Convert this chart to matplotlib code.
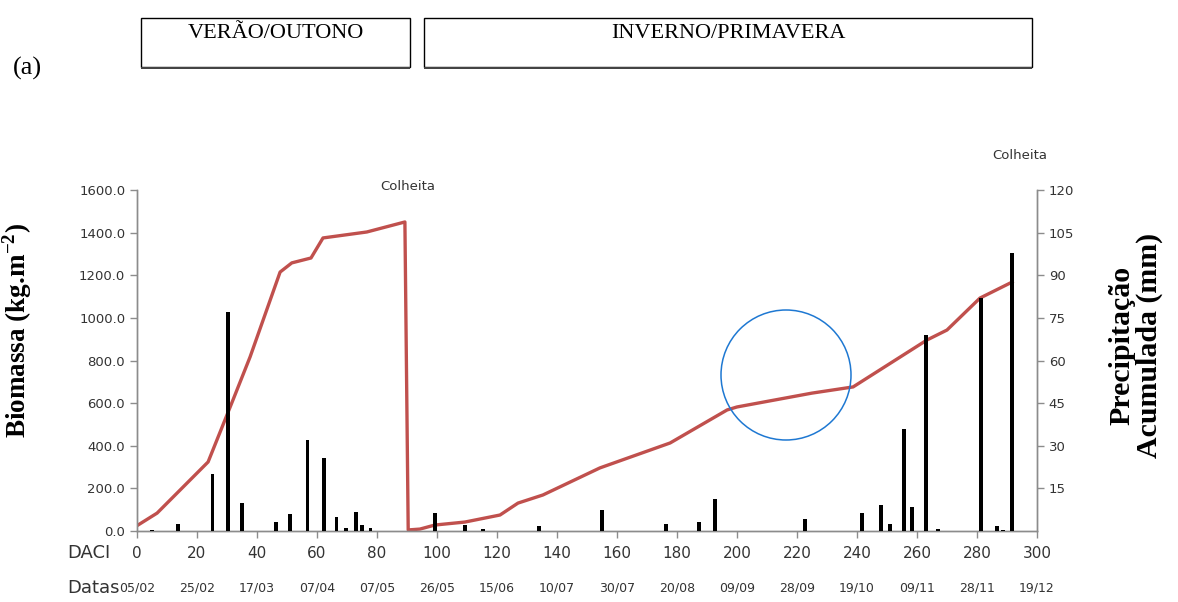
import matplotlib
matplotlib.use("Agg")
import matplotlib.pyplot as plt
from matplotlib.patches import Rectangle, Ellipse
from matplotlib.transforms import blended_transform_factory

plt.rcParams["mathtext.fontset"] = "custom"
plt.rcParams["mathtext.rm"] = "Liberation Serif:bold"
plt.rcParams["mathtext.bf"] = "Liberation Serif:bold"

# Biomass curve (DACI, kg.m-2)
bio_daci = [0, 6.7, 23.7, 32, 37.7, 47.7, 51.6, 58, 62, 76.6, 89.3, 90.4,
            94.3, 99.3, 109.3, 121, 127, 135.3, 154.3, 177.7, 196.7, 200,
            225, 238.7, 263.3, 270, 281, 291.7]
bio_vals = [25, 84, 324, 615, 817, 1215, 1258, 1281, 1375, 1403, 1450, 5,
            9, 28, 42, 75, 131, 169, 296, 413, 568, 582,
            647, 676, 896, 943, 1093, 1168]

# Daily rainfall events (DACI, mm)
rain_daci = [5, 13.7, 25.2, 30.3, 35, 46.3, 51, 56.8, 62.3, 66.5, 69.7, 73,
             75, 77.8, 99.3, 109.3, 115.3, 134, 155, 176.3, 187.3, 192.7,
             222.7, 241.7, 248, 251, 255.7, 258.3, 263, 267, 281.3, 286.7,
             288.7, 291.7]
rain_mm = [0.3, 2.5, 20, 77, 9.9, 3.2, 6, 32, 25.7, 5, 1.1, 6.7,
           2.1, 0.9, 6.3, 2.1, 0.7, 1.8, 7.4, 2.5, 3.2, 11.3,
           4.1, 6.3, 9.1, 2.5, 35.9, 8.5, 69, 0.7, 82, 1.8,
           0.3, 98]

daci_ticks = list(range(0, 301, 20))
date_labels = ["05/02", "25/02", "17/03", "07/04", "07/05", "26/05", "15/06",
               "10/07", "30/07", "20/08", "09/09", "28/09", "19/10", "09/11",
               "28/11", "19/12"]
bio_ticks = [0, 200, 400, 600, 800, 1000, 1200, 1400, 1600]
rain_ticks = [15, 30, 45, 60, 75, 90, 105, 120]

seasons = ["VERÃO/OUTONO", "INVERNO/PRIMAVERA"]

W, H = 1178, 602
fig = plt.figure(figsize=(W / 100, H / 100), dpi=100)
fig.patch.set_facecolor("white")

L, R, T, B = 137, 1037, 190, 531
ax = fig.add_axes([L / W, 1 - B / H, (R - L) / W, (B - T) / H])
ax2 = ax.twinx()

spine_c = "#8c8c8c"
tick_c = "#333333"

ax.plot(bio_daci, bio_vals, color="#C0504D", lw=2.4, solid_joinstyle="round", zorder=2)
ax.set_xlim(0, 300)
ax.set_ylim(0, 1600)
ax.set_yticks(bio_ticks)
ax.set_yticklabels([f"{v:.1f}" for v in bio_ticks])
ax.set_xticks(daci_ticks)
ax.set_xticklabels([str(t) for t in daci_ticks])

ax2.bar(rain_daci, rain_mm, width=1.1, color="black", zorder=3)
ax2.set_ylim(0, 120)
ax2.set_yticks(rain_ticks)
ax2.set_yticklabels([str(v) for v in rain_ticks])

for a in (ax, ax2):
    a.spines["top"].set_visible(False)
    for s in ("left", "right", "bottom"):
        a.spines[s].set_color(spine_c)
        a.spines[s].set_linewidth(1.0)
    a.tick_params(colors=spine_c, labelcolor=tick_c, labelsize=9.5, length=5, width=1.0)
ax.patch.set_visible(False)
ax.tick_params(axis="x", pad=6, labelsize=11)

# Date row below the DACI tick labels
tr = blended_transform_factory(ax.transData, fig.transFigure)
for x, lab in zip(daci_ticks, date_labels):
    ax.text(x, 1 - 588 / H, lab, transform=tr, ha="center", va="center",
            fontsize=9, color=tick_c)
fig.text(67 / W, 1 - 553 / H, "DACI", ha="left", va="center", fontsize=13, color=tick_c)
fig.text(67 / W, 1 - 588 / H, "Datas", ha="left", va="center", fontsize=13, color=tick_c)

# Harvest annotations
fig.text(408 / W, 1 - 187 / H, "Colheita", ha="center", va="center", fontsize=9.5, color=tick_c)
fig.text(1020 / W, 1 - 156 / H, "Colheita", ha="center", va="center", fontsize=9.5, color=tick_c)

# Axis titles
fig.text(17 / W, 1 - 330 / H, "Biomassa (kg.m$^{-2}$)", rotation=90,
         ha="center", va="center", fontsize=19.5, fontweight="bold",
         family="Liberation Serif")
fig.text(1136 / W, 1 - 345 / H, "Precipitação\nAcumulada (mm)", rotation=90,
         ha="center", va="center", fontsize=21.5, fontweight="bold",
         family="Liberation Serif", linespacing=1.0)

# Season boxes and panel letter
for (x0, x1), lab in zip([(141, 410), (424, 1032)], seasons):
    fig.patches.append(Rectangle((x0 / W, 1 - 67 / H), (x1 - x0) / W, 49 / H,
                                 transform=fig.transFigure, fill=False,
                                 edgecolor="black", lw=1.0))
    fig.patches.append(Rectangle((x0 / W, 1 - 68.5 / H), (x1 - x0) / W, 1.5 / H,
                                 transform=fig.transFigure, facecolor="#444444",
                                 edgecolor="none"))
    fig.text((x0 + x1) / 2 / W, 1 - 33 / H, lab, ha="center", va="center",
             fontsize=16, family="Liberation Serif")
fig.text(27 / W, 1 - 68 / H, "(a)", ha="center", va="center", fontsize=19,
         family="Liberation Serif")

# Highlight circle
fig.patches.append(Ellipse((786 / W, 1 - 375 / H), 130 / W, 130 / H,
                           transform=fig.transFigure, fill=False,
                           edgecolor="#1E78D2", lw=1.1))

fig.savefig("out.png", dpi=100)
